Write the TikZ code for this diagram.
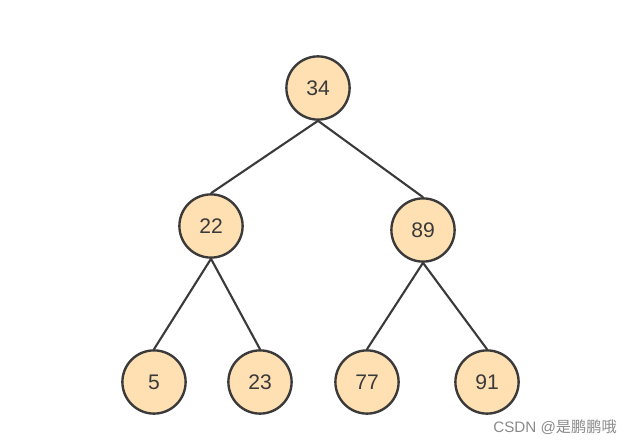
\documentclass[tikz,border=0pt]{standalone}
\usepackage{fontspec}
\setmainfont{Liberation Sans}
\newfontfamily\cjk{Noto Sans CJK SC}
\usepackage{xcolor}
\definecolor{keyfill}{HTML}{FFE0B3}
\definecolor{keyline}{HTML}{3A3A3A}
\definecolor{markgray}{HTML}{8A8A8A}
\usepackage{tikz}

\begin{document}
\begin{tikzpicture}[x=0.025cm,y=-0.025cm,
    key/.style={circle,draw=keyline,fill=keyfill,line width=1.7pt,
      minimum size=1.58cm,inner sep=0pt,text=keyline,
      font=\fontsize{15}{17}\selectfont},
    link/.style={draw=keyline,line width=1.5pt}]
  \useasboundingbox (0,0) rectangle (643,445);
  \node[key] (34) at (318,88) {34};
  \node[key] (22) at (211,226) {22};
  \node[key] (89) at (423,230) {89};
  \node[key] (5) at (154,382) {5};
  \node[key] (23) at (260,382) {23};
  \node[key] (77) at (367,382) {77};
  \node[key] (91) at (487,382) {91};
  \draw[link] (34.south) to (22.north);
  \draw[link] (34.south) to (89.north);
  \draw[link] (22.south) to (5.north);
  \draw[link] (22.south) to (23.north);
  \draw[link] (89.south) to (77.north);
  \draw[link] (89.south) to (91.north);
  \node[text=markgray,font=\fontsize{10.8}{12}\selectfont] (mark) at (555,427)
    {CSDN @{\cjk 是鹏鹏哦}};
\end{tikzpicture}
\end{document}
